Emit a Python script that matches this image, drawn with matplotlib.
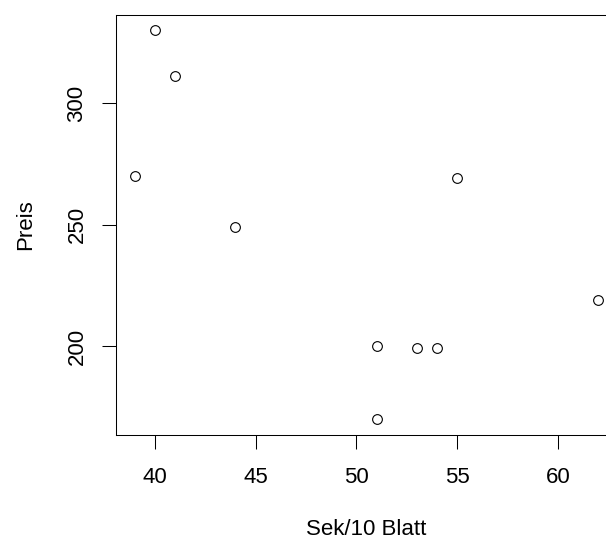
import matplotlib
matplotlib.use("Agg")
import matplotlib.pyplot as plt

sek = [39, 40, 41, 44, 51, 51, 53, 54, 55, 62]
preis = [270, 330, 311, 249, 200, 170, 199, 199, 269, 219]
xticks = [40, 45, 50, 55, 60]
yticks = [200, 250, 300]

plt.rcParams['font.family'] = ['Liberation Sans', 'DejaVu Sans']

W, H = 606, 539
fig = plt.figure(figsize=(W / 100, H / 100), dpi=100)
# plot region as in R's default layout; right edge falls outside the image
ax = fig.add_axes([116 / W, (H - 434.5) / H, 501 / W, 420 / H])

ax.plot(sek, preis, 'o', mfc='none', mec='black', ms=7, mew=0.8)

rx = max(sek) - min(sek)
ry = max(preis) - min(preis)
ax.set_xlim(min(sek) - 0.04 * rx, max(sek) + 0.04 * rx)
ax.set_ylim(min(preis) - 0.04 * ry, max(preis) + 0.04 * ry)

ax.set_xticks(xticks)
ax.set_yticks(yticks)
ax.set_yticklabels([str(v) for v in yticks], rotation=90, va='center')
ax.tick_params(direction='out', length=9.8, width=0.75, labelsize=16)
ax.tick_params(axis='x', pad=13.7)
ax.tick_params(axis='y', pad=10.8)

for s in ax.spines.values():
    s.set_linewidth(0.75)

ax.set_xlabel('Sek/10 Blatt', fontsize=16)
ax.set_ylabel('Preis', fontsize=16)
ax.xaxis.set_label_coords(0.5, -0.2012)
ax.yaxis.set_label_coords(-0.159, 0.5)

fig.savefig('out.png', dpi=100)
